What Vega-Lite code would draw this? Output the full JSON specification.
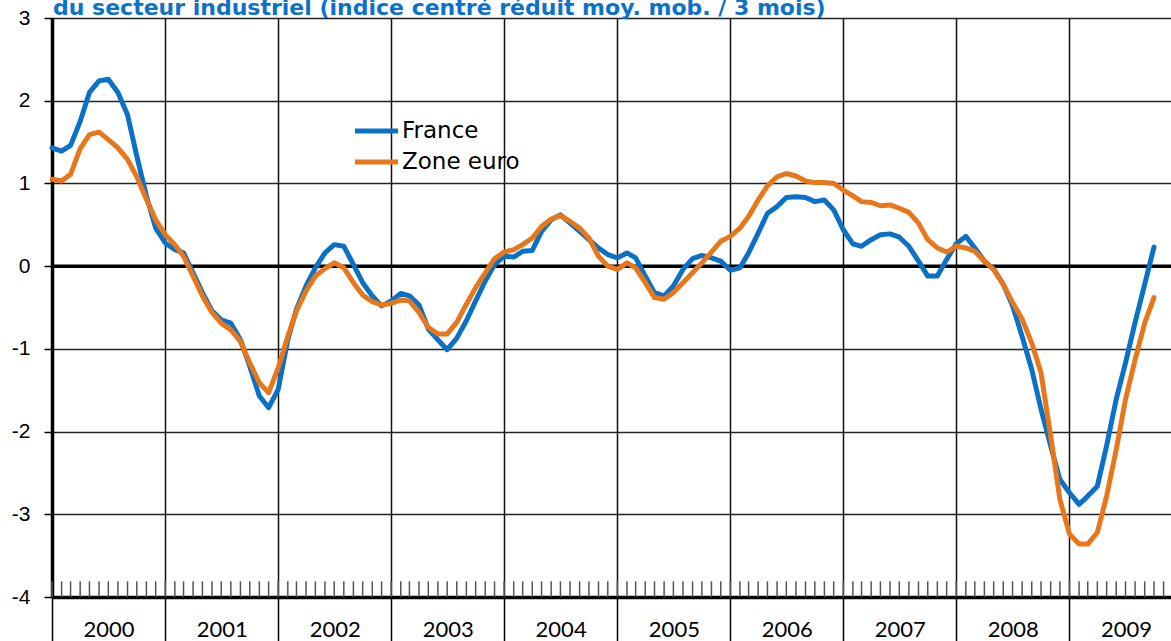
{
  "$schema": "https://vega.github.io/schema/vega-lite/v6.json",
  "width": 1119,
  "height": 579,
  "autosize": "none",
  "padding": {"left": 52, "top": 18, "right": 0, "bottom": 44},
  "background": "white",
  "config": {
    "view": {"stroke": null},
    "axis": {"labelFont": "Liberation Sans", "labelColor": "black"}
  },
  "data": {
    "values": [
      {"date": "2000-01-01", "France": 1.43, "Zone euro": 1.05},
      {"date": "2000-02-01", "France": 1.39, "Zone euro": 1.03},
      {"date": "2000-03-01", "France": 1.46, "Zone euro": 1.11},
      {"date": "2000-04-01", "France": 1.75, "Zone euro": 1.42},
      {"date": "2000-05-01", "France": 2.10, "Zone euro": 1.59},
      {"date": "2000-06-01", "France": 2.24, "Zone euro": 1.62},
      {"date": "2000-07-01", "France": 2.26, "Zone euro": 1.53},
      {"date": "2000-08-01", "France": 2.10, "Zone euro": 1.43},
      {"date": "2000-09-01", "France": 1.83, "Zone euro": 1.29},
      {"date": "2000-10-01", "France": 1.33, "Zone euro": 1.08},
      {"date": "2000-11-01", "France": 0.85, "Zone euro": 0.81},
      {"date": "2000-12-01", "France": 0.46, "Zone euro": 0.56},
      {"date": "2001-01-01", "France": 0.28, "Zone euro": 0.38},
      {"date": "2001-02-01", "France": 0.20, "Zone euro": 0.26},
      {"date": "2001-03-01", "France": 0.16, "Zone euro": 0.12},
      {"date": "2001-04-01", "France": -0.08, "Zone euro": -0.12},
      {"date": "2001-05-01", "France": -0.32, "Zone euro": -0.36},
      {"date": "2001-06-01", "France": -0.54, "Zone euro": -0.56},
      {"date": "2001-07-01", "France": -0.65, "Zone euro": -0.69},
      {"date": "2001-08-01", "France": -0.69, "Zone euro": -0.77},
      {"date": "2001-09-01", "France": -0.89, "Zone euro": -0.91},
      {"date": "2001-10-01", "France": -1.21, "Zone euro": -1.17},
      {"date": "2001-11-01", "France": -1.57, "Zone euro": -1.41},
      {"date": "2001-12-01", "France": -1.71, "Zone euro": -1.53},
      {"date": "2002-01-01", "France": -1.49, "Zone euro": -1.23},
      {"date": "2002-02-01", "France": -0.89, "Zone euro": -0.85},
      {"date": "2002-03-01", "France": -0.52, "Zone euro": -0.54},
      {"date": "2002-04-01", "France": -0.24, "Zone euro": -0.30},
      {"date": "2002-05-01", "France": -0.02, "Zone euro": -0.12},
      {"date": "2002-06-01", "France": 0.16, "Zone euro": -0.03},
      {"date": "2002-07-01", "France": 0.26, "Zone euro": 0.04},
      {"date": "2002-08-01", "France": 0.24, "Zone euro": -0.02},
      {"date": "2002-09-01", "France": 0.02, "Zone euro": -0.20},
      {"date": "2002-10-01", "France": -0.20, "Zone euro": -0.35},
      {"date": "2002-11-01", "France": -0.36, "Zone euro": -0.43},
      {"date": "2002-12-01", "France": -0.48, "Zone euro": -0.47},
      {"date": "2003-01-01", "France": -0.42, "Zone euro": -0.45},
      {"date": "2003-02-01", "France": -0.33, "Zone euro": -0.41},
      {"date": "2003-03-01", "France": -0.36, "Zone euro": -0.42},
      {"date": "2003-04-01", "France": -0.47, "Zone euro": -0.56},
      {"date": "2003-05-01", "France": -0.76, "Zone euro": -0.74},
      {"date": "2003-06-01", "France": -0.89, "Zone euro": -0.82},
      {"date": "2003-07-01", "France": -1.01, "Zone euro": -0.82},
      {"date": "2003-08-01", "France": -0.87, "Zone euro": -0.68},
      {"date": "2003-09-01", "France": -0.66, "Zone euro": -0.46},
      {"date": "2003-10-01", "France": -0.42, "Zone euro": -0.26},
      {"date": "2003-11-01", "France": -0.18, "Zone euro": -0.08},
      {"date": "2003-12-01", "France": 0.02, "Zone euro": 0.09},
      {"date": "2004-01-01", "France": 0.12, "Zone euro": 0.17},
      {"date": "2004-02-01", "France": 0.11, "Zone euro": 0.20},
      {"date": "2004-03-01", "France": 0.18, "Zone euro": 0.26},
      {"date": "2004-04-01", "France": 0.19, "Zone euro": 0.34},
      {"date": "2004-05-01", "France": 0.42, "Zone euro": 0.48},
      {"date": "2004-06-01", "France": 0.56, "Zone euro": 0.57},
      {"date": "2004-07-01", "France": 0.62, "Zone euro": 0.61},
      {"date": "2004-08-01", "France": 0.52, "Zone euro": 0.54},
      {"date": "2004-09-01", "France": 0.42, "Zone euro": 0.46},
      {"date": "2004-10-01", "France": 0.32, "Zone euro": 0.34},
      {"date": "2004-11-01", "France": 0.22, "Zone euro": 0.12},
      {"date": "2004-12-01", "France": 0.14, "Zone euro": 0.00},
      {"date": "2005-01-01", "France": 0.10, "Zone euro": -0.04},
      {"date": "2005-02-01", "France": 0.16, "Zone euro": 0.04},
      {"date": "2005-03-01", "France": 0.10, "Zone euro": -0.02},
      {"date": "2005-04-01", "France": -0.12, "Zone euro": -0.20},
      {"date": "2005-05-01", "France": -0.32, "Zone euro": -0.38},
      {"date": "2005-06-01", "France": -0.36, "Zone euro": -0.40},
      {"date": "2005-07-01", "France": -0.24, "Zone euro": -0.32},
      {"date": "2005-08-01", "France": -0.04, "Zone euro": -0.20},
      {"date": "2005-09-01", "France": 0.09, "Zone euro": -0.08},
      {"date": "2005-10-01", "France": 0.13, "Zone euro": 0.04},
      {"date": "2005-11-01", "France": 0.10, "Zone euro": 0.17},
      {"date": "2005-12-01", "France": 0.06, "Zone euro": 0.30},
      {"date": "2006-01-01", "France": -0.05, "Zone euro": 0.36},
      {"date": "2006-02-01", "France": -0.02, "Zone euro": 0.46},
      {"date": "2006-03-01", "France": 0.16, "Zone euro": 0.60},
      {"date": "2006-04-01", "France": 0.40, "Zone euro": 0.80},
      {"date": "2006-05-01", "France": 0.64, "Zone euro": 0.97},
      {"date": "2006-06-01", "France": 0.72, "Zone euro": 1.08},
      {"date": "2006-07-01", "France": 0.83, "Zone euro": 1.12},
      {"date": "2006-08-01", "France": 0.84, "Zone euro": 1.09},
      {"date": "2006-09-01", "France": 0.83, "Zone euro": 1.03},
      {"date": "2006-10-01", "France": 0.78, "Zone euro": 1.01},
      {"date": "2006-11-01", "France": 0.80, "Zone euro": 1.01},
      {"date": "2006-12-01", "France": 0.68, "Zone euro": 1.00},
      {"date": "2007-01-01", "France": 0.44, "Zone euro": 0.92},
      {"date": "2007-02-01", "France": 0.27, "Zone euro": 0.85},
      {"date": "2007-03-01", "France": 0.24, "Zone euro": 0.78},
      {"date": "2007-04-01", "France": 0.32, "Zone euro": 0.77},
      {"date": "2007-05-01", "France": 0.38, "Zone euro": 0.73},
      {"date": "2007-06-01", "France": 0.39, "Zone euro": 0.74},
      {"date": "2007-07-01", "France": 0.35, "Zone euro": 0.70},
      {"date": "2007-08-01", "France": 0.24, "Zone euro": 0.65},
      {"date": "2007-09-01", "France": 0.06, "Zone euro": 0.52},
      {"date": "2007-10-01", "France": -0.12, "Zone euro": 0.32},
      {"date": "2007-11-01", "France": -0.12, "Zone euro": 0.22},
      {"date": "2007-12-01", "France": 0.08, "Zone euro": 0.17},
      {"date": "2008-01-01", "France": 0.27, "Zone euro": 0.24},
      {"date": "2008-02-01", "France": 0.36, "Zone euro": 0.22},
      {"date": "2008-03-01", "France": 0.22, "Zone euro": 0.18},
      {"date": "2008-04-01", "France": 0.06, "Zone euro": 0.06},
      {"date": "2008-05-01", "France": -0.04, "Zone euro": -0.04},
      {"date": "2008-06-01", "France": -0.22, "Zone euro": -0.22},
      {"date": "2008-07-01", "France": -0.48, "Zone euro": -0.44},
      {"date": "2008-08-01", "France": -0.85, "Zone euro": -0.64},
      {"date": "2008-09-01", "France": -1.25, "Zone euro": -0.93},
      {"date": "2008-10-01", "France": -1.73, "Zone euro": -1.29},
      {"date": "2008-11-01", "France": -2.17, "Zone euro": -2.05},
      {"date": "2008-12-01", "France": -2.58, "Zone euro": -2.82},
      {"date": "2009-01-01", "France": -2.74, "Zone euro": -3.24},
      {"date": "2009-02-01", "France": -2.88, "Zone euro": -3.36},
      {"date": "2009-03-01", "France": -2.78, "Zone euro": -3.36},
      {"date": "2009-04-01", "France": -2.66, "Zone euro": -3.22},
      {"date": "2009-05-01", "France": -2.17, "Zone euro": -2.78},
      {"date": "2009-06-01", "France": -1.61, "Zone euro": -2.22},
      {"date": "2009-07-01", "France": -1.17, "Zone euro": -1.61},
      {"date": "2009-08-01", "France": -0.68, "Zone euro": -1.13},
      {"date": "2009-09-01", "France": -0.22, "Zone euro": -0.69},
      {"date": "2009-10-01", "France": 0.23, "Zone euro": -0.38},
      {"date": "2009-11-01", "France": null, "Zone euro": null}
    ]
  },
  "encoding": {
    "x": {
      "field": "date",
      "type": "temporal",
      "scale": {
        "type": "utc",
        "domain": [
          {"year": 2000, "month": 1, "date": 1, "utc": true},
          {"year": 2009, "month": 11, "date": 25, "utc": true}
        ]
      },
      "axis": {
        "title": null,
        "values": [
          {"year": 2000, "month": 1, "date": 1, "utc": true},
          {"year": 2001, "month": 1, "date": 1, "utc": true},
          {"year": 2002, "month": 1, "date": 1, "utc": true},
          {"year": 2003, "month": 1, "date": 1, "utc": true},
          {"year": 2004, "month": 1, "date": 1, "utc": true},
          {"year": 2005, "month": 1, "date": 1, "utc": true},
          {"year": 2006, "month": 1, "date": 1, "utc": true},
          {"year": 2007, "month": 1, "date": 1, "utc": true},
          {"year": 2008, "month": 1, "date": 1, "utc": true},
          {"year": 2009, "month": 1, "date": 1, "utc": true}
        ],
        "format": "%Y",
        "formatType": "utc",
        "labelFontSize": 22,
        "labelFont": "Lato",
        "labelAlign": "center",
        "labelOffset": 56.5,
        "labelPadding": -22,
        "labelBaseline": "top",
        "labelFlush": false,
        "labelOverlap": false,
        "tickSize": 44,
        "tickColor": "black",
        "tickWidth": 1.5,
        "grid": true,
        "gridColor": "#111",
        "gridWidth": 1.5,
        "domainColor": "black",
        "domainWidth": 3.5
      }
    },
    "y": {
      "type": "quantitative",
      "scale": {"domain": [-4, 3], "nice": false, "zero": false}
    }
  },
  "layer": [
    {
      "mark": {"type": "rule", "color": "#555", "strokeWidth": 1.5},
      "encoding": {
        "y": {
          "datum": -4,
          "type": "quantitative",
          "axis": {
            "title": null,
            "values": [-4, -3, -2, -1, 0, 1, 2, 3],
            "labelExpr": "toString(datum.value)",
            "labelFontSize": 21,
            "labelPadding": 14,
            "tickSize": 8,
            "tickColor": "black",
            "tickWidth": 1.5,
            "grid": true,
            "gridColor": "#222",
            "gridWidth": 1.5,
            "domainColor": "black",
            "domainWidth": 3.5
          }
        },
        "y2": {"datum": -3.81}
      }
    },
    {
      "data": {"values": [{}]},
      "mark": {"type": "rule", "color": "black", "strokeWidth": 3.5},
      "encoding": {"x": null, "y": {"datum": 0, "type": "quantitative"}}
    },
    {
      "data": {"values": [{"date": "2000-01-01", "titre": "du secteur industriel (indice centré réduit moy. mob. / 3 mois)"}]},
      "mark": {
        "type": "text",
        "align": "left",
        "baseline": "alphabetic",
        "dx": 1,
        "dy": -3,
        "font": "DejaVu Sans",
        "fontSize": 22,
        "fontWeight": "bold",
        "fill": "#0a72ca",
        "clip": false
      },
      "encoding": {
        "x": {"field": "date", "type": "temporal"},
        "y": {"datum": 3, "type": "quantitative"},
        "text": {"field": "titre", "type": "nominal"}
      }
    },
    {
      "transform": [{"fold": ["France", "Zone euro"], "as": ["serie", "valeur"]}],
      "mark": {"type": "line", "strokeWidth": 5, "strokeCap": "round", "strokeJoin": "round"},
      "encoding": {
        "y": {"field": "valeur", "type": "quantitative"},
        "color": {
          "field": "serie",
          "type": "nominal",
          "scale": {"domain": ["France", "Zone euro"], "range": ["#0a71c6", "#e8771c"]},
          "legend": {
            "title": null,
            "orient": "none",
            "legendX": 300,
            "legendY": 98,
            "padding": 0,
            "symbolType": "stroke",
            "symbolSize": 1850,
            "symbolStrokeWidth": 5,
            "clipHeight": 30,
            "labelFont": "DejaVu Sans",
            "labelFontSize": 23,
            "labelColor": "black",
            "labelOffset": 1,
            "rowPadding": 1
          }
        }
      }
    }
  ]
}
